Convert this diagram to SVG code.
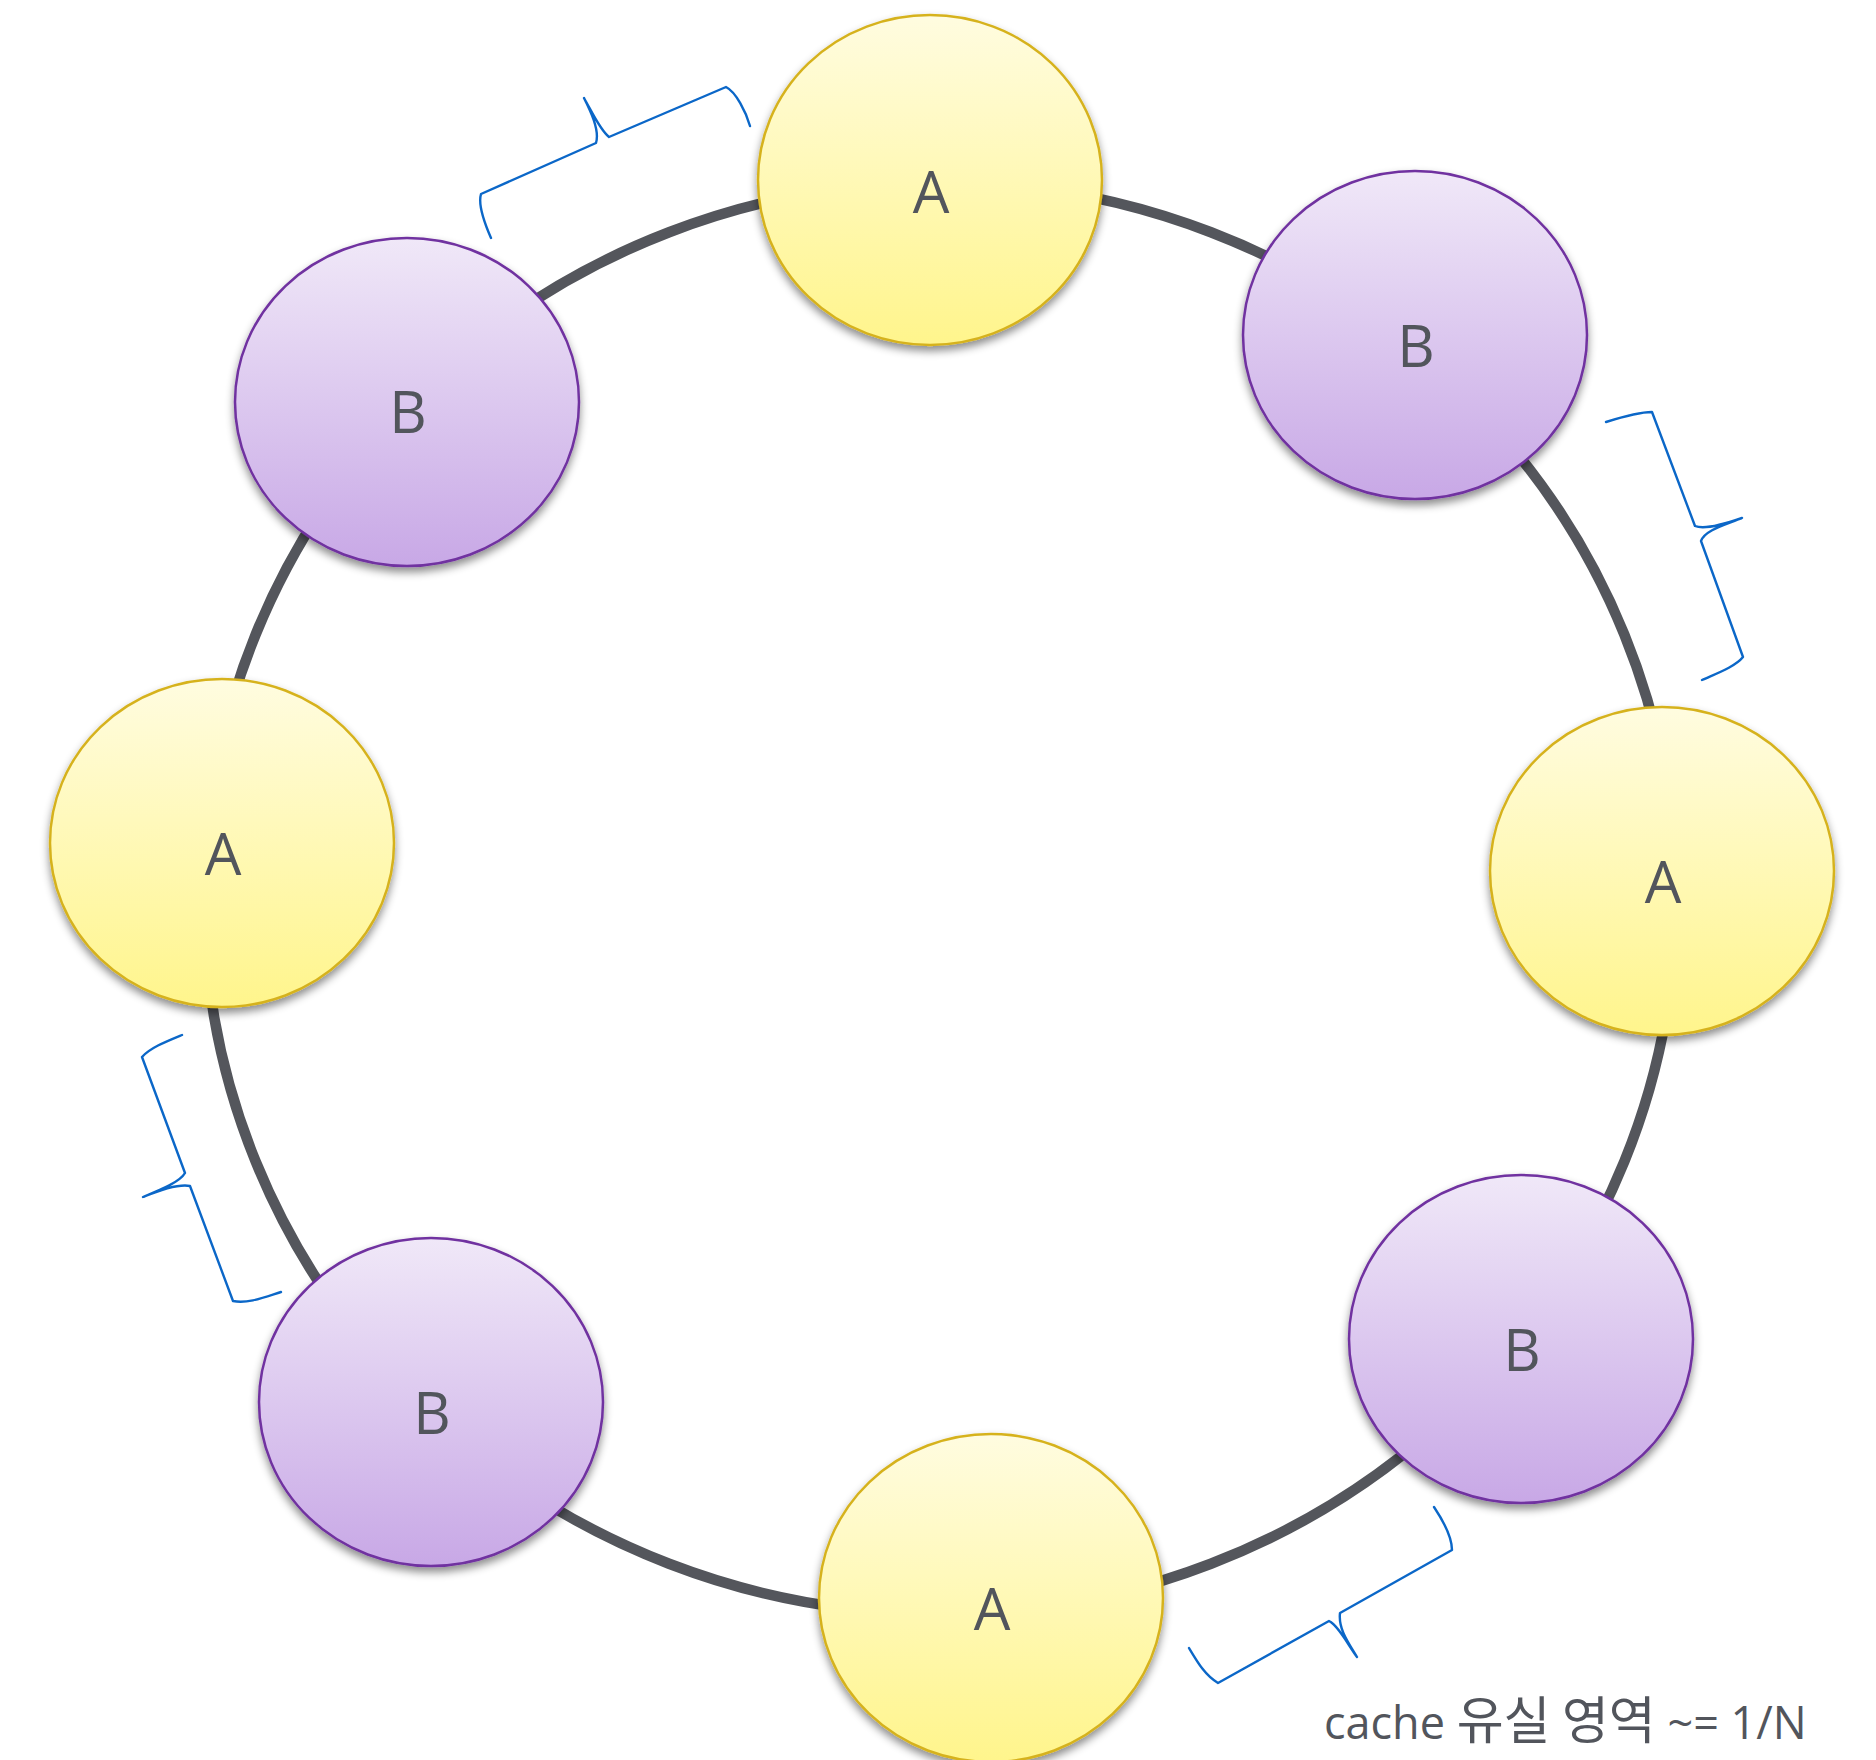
<svg xmlns="http://www.w3.org/2000/svg" width="1876" height="1760" viewBox="0 0 1876 1760">
<style>
.ring{fill:none;stroke:#54565c;stroke-width:10.5}
.brace{fill:none;stroke:#0b67c8;stroke-width:2.4;stroke-linejoin:round;stroke-linecap:round}
.na{fill:url(#gA);stroke:#d6b21f;stroke-width:2.5}
.nb{fill:url(#gB);stroke:#7030a0;stroke-width:2.5}
.lbl{font-family:"Open Sans","Noto Sans",sans-serif;font-size:58px;fill:#52555c;text-anchor:middle}
.cap{font-family:"Open Sans","Noto Sans CJK KR",sans-serif;font-size:45px;fill:#52555c;letter-spacing:0px}
.ko{font-family:"Noto Sans CJK KR",sans-serif;font-size:51px}
</style>
<defs>
<linearGradient id="gA" x1="0" y1="0" x2="0" y2="1">
<stop offset="0" stop-color="#fffce0"/>
<stop offset="1" stop-color="#fff58c"/>
</linearGradient>
<linearGradient id="gB" x1="0" y1="0" x2="0" y2="1">
<stop offset="0" stop-color="#f0e8f8"/>
<stop offset="1" stop-color="#c8a8e6"/>
</linearGradient>
<filter id="sh" x="-20%" y="-20%" width="140%" height="150%">
<feDropShadow dx="0" dy="5" stdDeviation="4" flood-color="#000" flood-opacity="0.45"/>
</filter>
</defs>
<g id="connectors">
<ellipse class="ring" cx="940" cy="898" rx="736" ry="716"/>
</g>
<g id="braces">
<path class="brace" d="M491,238 C484,222 478,204 481,194 L596,143 C600,130 590,110 584,98 C592,112 600,130 609,137 L726,87 C736,92 746,112 750,126"/>
<path class="brace" d="M1606,422 C1625,416 1640,412 1652,412 L1695,526 C1705,530 1725,524 1742,518 C1725,525 1705,530 1701,541 L1743,657 C1735,667 1715,674 1702,680"/>
<path class="brace" d="M182,1035 C165,1042 150,1048 142,1057 L185,1173 C180,1182 160,1190 143,1197 C160,1190 180,1184 190,1186 L233,1301 C248,1304 265,1297 281,1292"/>
<path class="brace" d="M1434,1507 C1444,1522 1452,1538 1452,1550 L1340,1613 C1338,1630 1350,1645 1357,1657 C1348,1645 1338,1625 1329,1621 L1218,1683 C1205,1675 1198,1663 1189,1648"/>
</g>
<g id="node-a-top"><ellipse class="na" filter="url(#sh)" cx="930" cy="180" rx="172" ry="165"/><text class="lbl" x="931" y="213">A</text></g>
<g id="node-b-topright"><ellipse class="nb" filter="url(#sh)" cx="1415" cy="335" rx="172" ry="164"/><text class="lbl" x="1416" y="367">B</text></g>
<g id="node-a-right"><ellipse class="na" filter="url(#sh)" cx="1662" cy="871" rx="172" ry="164"/><text class="lbl" x="1663" y="903">A</text></g>
<g id="node-b-bottomright"><ellipse class="nb" filter="url(#sh)" cx="1521" cy="1339" rx="172" ry="164"/><text class="lbl" x="1522" y="1371">B</text></g>
<g id="node-a-bottom"><ellipse class="na" filter="url(#sh)" cx="991" cy="1598" rx="172" ry="164"/><text class="lbl" x="992" y="1630">A</text></g>
<g id="node-b-bottomleft"><ellipse class="nb" filter="url(#sh)" cx="431" cy="1402" rx="172" ry="164"/><text class="lbl" x="432" y="1434">B</text></g>
<g id="node-a-left"><ellipse class="na" filter="url(#sh)" cx="222" cy="843" rx="172" ry="164"/><text class="lbl" x="223" y="875">A</text></g>
<g id="node-b-topleft"><ellipse class="nb" filter="url(#sh)" cx="407" cy="402" rx="172" ry="164"/><text class="lbl" x="408" y="433">B</text></g>
<text class="cap" x="1324" y="1739">cache <tspan class="ko">유실 영역</tspan> ~= 1/N</text>
</svg>
